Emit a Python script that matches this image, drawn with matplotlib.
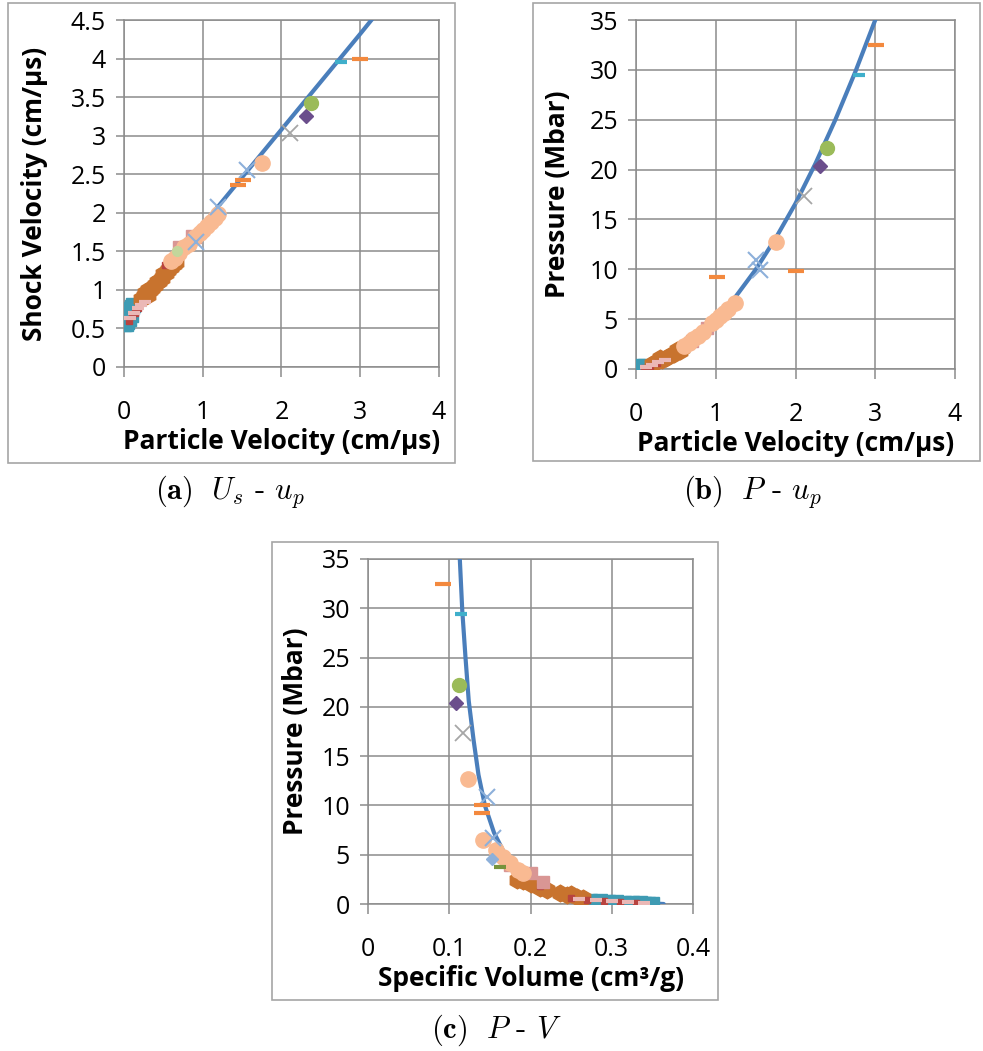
import matplotlib
matplotlib.use("Agg")
import matplotlib.pyplot as plt
from matplotlib.patches import Rectangle
from matplotlib.ticker import FixedLocator

plt.rcParams['font.family'] = ['Open Sans', 'DejaVu Sans']
plt.rcParams['mathtext.fontset'] = 'cm'

# fitted Hugoniot
fit_up = [0.0, 0.05, 0.1, 0.18, 0.25, 0.35, 0.5, 0.75, 1.0, 1.25, 1.5, 1.75, 2.0, 2.25, 2.5, 2.75, 3.0, 3.15]
fit_us = [0.6, 0.66, 0.72, 0.82, 0.91, 1.03, 1.22, 1.53, 1.84, 2.15, 2.46, 2.77, 3.08, 3.39, 3.7, 4.01, 4.32, 4.51]
fit_p = [0.0, 0.09, 0.19, 0.4, 0.61, 0.97, 1.65, 3.1, 4.97, 7.26, 9.96, 13.1, 16.6, 20.6, 25.0, 29.8, 35.0, 38.4]
fit_v = [0.364, 0.34, 0.318, 0.289, 0.268, 0.244, 0.218, 0.189, 0.169, 0.155, 0.144, 0.136, 0.13, 0.124, 0.12, 0.116, 0.113, 0.111]

# (a) Us - up data
teal_a_x = [0.0, 0.01, 0.02, 0.03, 0.04, 0.05, 0.06, 0.07, 0.08, 0.1, 0.02, 0.04, 0.06, 0.12, 0.0, 0.09]
teal_a_y = [0.56, 0.6, 0.63, 0.66, 0.69, 0.66, 0.72, 0.7, 0.75, 0.78, 0.56, 0.58, 0.62, 0.8, 0.62, 0.68]
red_a_x = [0.06, 0.1, 0.14, 0.18, 0.52]
red_a_y = [0.6, 0.66, 0.7, 0.76, 1.32]
pink_a_x = [0.08, 0.13, 0.18, 0.22, 0.27]
pink_a_y = [0.64, 0.7, 0.76, 0.8, 0.84]
brown_a_x = [0.22, 0.25, 0.27, 0.3, 0.33, 0.36, 0.4, 0.44, 0.48, 0.5, 0.53, 0.56, 0.6, 0.63, 0.66, 0.3, 0.42]
brown_a_y = [0.88, 0.92, 0.96, 0.94, 1.0, 1.03, 1.06, 1.12, 1.16, 1.2, 1.22, 1.26, 1.3, 1.33, 1.36, 1.0, 1.1]
peach_a_x = [0.6, 0.65, 0.7, 0.76, 0.82, 0.9, 0.96, 1.0, 1.05, 1.1, 1.15, 1.2, 1.75]
peach_a_y = [1.38, 1.42, 1.48, 1.55, 1.6, 1.68, 1.74, 1.78, 1.83, 1.88, 1.93, 1.98, 2.65]
rose_a_x = [0.7, 0.86, 0.9]
rose_a_y = [1.56, 1.7, 1.68]
lgreen_a_x = [0.67]
lgreen_a_y = [1.5]
lblue_a_x = [0.92, 1.2, 1.56]
lblue_a_y = [1.62, 2.08, 2.55]
gray_a_x = [2.11]
gray_a_y = [3.03]
purple_a_x = [2.31]
purple_a_y = [3.25]
green_a_x = [2.38]
green_a_y = [3.42]
orange_a_x = [1.45, 1.51, 3.0]
orange_a_y = [2.36, 2.43, 4.0]
aqua_a_x = [2.76]
aqua_a_y = [3.96]

# (b) P - up data
teal_b_x = [0.0, 0.01, 0.02, 0.03, 0.05, 0.07, 0.09, 0.11, 0.02, 0.06]
teal_b_y = [0.0, 0.05, 0.1, 0.15, 0.18, 0.2, 0.25, 0.3, 0.3, 0.1]
red_b_x = [0.1, 0.18, 0.26]
red_b_y = [0.15, 0.35, 0.6]
pink_b_x = [0.12, 0.2, 0.28, 0.36]
pink_b_y = [0.25, 0.45, 0.7, 0.95]
brown_b_x = [0.2, 0.25, 0.3, 0.33, 0.37, 0.42, 0.48, 0.51, 0.55, 0.58]
brown_b_y = [0.5, 0.7, 1.07, 0.9, 1.1, 1.3, 1.55, 1.9, 1.85, 2.1]
peach_b_x = [0.6, 0.66, 0.72, 0.78, 0.84, 0.95, 1.0, 1.05, 1.1, 1.15, 1.24, 1.76]
peach_b_y = [2.3, 2.6, 3.0, 3.3, 3.7, 4.6, 4.9, 5.3, 5.6, 6.0, 6.6, 12.7]
rose_b_x = [0.89, 0.7]
rose_b_y = [4.1, 2.8]
lblue_b_x = [1.51, 1.55]
lblue_b_y = [10.9, 9.9]
gray_b_x = [2.11]
gray_b_y = [17.3]
purple_b_x = [2.31]
purple_b_y = [20.4]
green_b_x = [2.4]
green_b_y = [22.2]
orange_b_x = [1.01, 2.01, 3.01]
orange_b_y = [9.2, 9.86, 32.5]
aqua_b_x = [2.79]
aqua_b_y = [29.5]

# (c) P - V data
teal_c_x = [0.273, 0.285, 0.295, 0.305, 0.315, 0.325, 0.335, 0.345, 0.35, 0.3, 0.32, 0.34]
teal_c_y = [0.35, 0.3, 0.25, 0.2, 0.15, 0.12, 0.08, 0.05, 0.0, 0.05, 0.0, 0.0]
red_c_x = [0.25, 0.27, 0.29, 0.31, 0.33, 0.212]
red_c_y = [0.6, 0.45, 0.35, 0.25, 0.15, 1.8]
pink_c_x = [0.26, 0.28, 0.3, 0.32, 0.34]
pink_c_y = [0.5, 0.4, 0.3, 0.2, 0.1]
brown_c_x = [0.183, 0.191, 0.2, 0.212, 0.22, 0.236, 0.245, 0.257, 0.265, 0.25]
brown_c_y = [2.4, 2.3, 2.0, 1.6, 1.4, 1.1, 0.9, 0.75, 0.6, 1.0]
peach_c_x = [0.1227, 0.142, 0.158, 0.166, 0.175, 0.185, 0.191]
peach_c_y = [12.7, 6.5, 5.5, 4.8, 4.2, 3.4, 3.1]
rose_c_x = [0.175, 0.201, 0.215]
rose_c_y = [4.0, 3.1, 2.2]
lblue_c_x = [0.146, 0.154]
lblue_c_y = [10.9, 6.7]
lblued_c_x = [0.152]
lblued_c_y = [4.6]
gdash_c_x = [0.162]
gdash_c_y = [3.8]
gray_c_x = [0.1165]
gray_c_y = [17.3]
purple_c_x = [0.108]
purple_c_y = [20.4]
green_c_x = [0.112]
green_c_y = [22.2]
orange_c_x = [0.0927, 0.14, 0.1407]
orange_c_y = [32.5, 10.0, 9.2]
aqua_c_x = [0.115]
aqua_c_y = [29.4]

styles = {
    'teal': dict(marker='s', color='#3E9BB3', ms=10),
    'red': dict(marker='s', color='#B8433F', ms=5),
    'pink': dict(marker='_', color='#EBB8B6', ms=9, mew=3),
    'brown': dict(marker='h', color='#C8732E', ms=12),
    'peach': dict(marker='o', color='#F9BA92', ms=11),
    'rose': dict(marker='s', color='#D99694', ms=9),
    'lgreen': dict(marker='o', color='#C3D69B', ms=7),
    'lblue': dict(marker='x', color='#8DB0DA', ms=11, mew=1.5),
    'lblued': dict(marker='D', color='#8DB0DA', ms=6),
    'gdash': dict(marker='_', color='#77933C', ms=8, mew=3),
    'gray': dict(marker='x', color='#A6A6A6', ms=12, mew=1.3),
    'purple': dict(marker='D', color='#6B4E8C', ms=7),
    'green': dict(marker='o', color='#9BBB59', ms=10),
    'orange': dict(marker='_', color='#F3893E', ms=11, mew=3),
    'aqua': dict(marker='_', color='#3FAFCB', ms=8, mew=3),
}

line_col = '#4A7EBB'
grid_col = '#8C8C8C'


def draw(ax, key, xs, ys):
    st = styles[key]
    ax.plot(xs, ys, linestyle='none', marker=st['marker'], color=st['color'],
            mec=st['color'], ms=st['ms'], mew=st.get('mew', 1), zorder=4)


def setup(ax, xt, xl, yt, yl, xlabel, ylabel, ylpad):
    ax.set_xlim(xt[0], xt[-1])
    ax.set_ylim(yt[0], yt[-1])
    ax.xaxis.set_major_locator(FixedLocator(xt))
    ax.yaxis.set_major_locator(FixedLocator(yt))
    ax.set_xticklabels(xl, fontsize=18)
    ax.set_yticklabels(yl, fontsize=18)
    ax.grid(True, color=grid_col, lw=1.1, zorder=0)
    ax.set_axisbelow(True)
    for s in ax.spines.values():
        s.set_color(grid_col)
        s.set_linewidth(1.1)
    ax.tick_params(axis='x', length=7, width=1.1, color=grid_col, pad=17)
    ax.tick_params(axis='y', length=6, width=1.1, color=grid_col, pad=7)
    ax.set_xlabel(xlabel, fontsize=19, fontweight='bold', labelpad=2)
    ax.set_ylabel(ylabel, fontsize=19, fontweight='bold', labelpad=ylpad)


fig = plt.figure(figsize=(9.83, 10.51), dpi=100)

# grey frames round each chart
for x0, y0, x1, y1 in [(8, 3, 455, 463), (533, 3, 980, 461), (272, 542, 718, 1000)]:
    fig.patches.append(Rectangle((x0 / 983, 1 - y1 / 1051), (x1 - x0) / 983, (y1 - y0) / 1051,
                                 transform=fig.transFigure, fill=False,
                                 edgecolor='#A5A5A5', lw=1.2))

ax1 = fig.add_axes([124 / 983, 1 - 367 / 1051, 315 / 983, 347 / 1051])
ax2 = fig.add_axes([636 / 983, 1 - 369 / 1051, 319 / 983, 349 / 1051])
ax3 = fig.add_axes([368 / 983, 1 - 904 / 1051, 325 / 983, 345 / 1051])

up_ticks = [0, 1, 2, 3, 4]
up_labels = ['0', '1', '2', '3', '4']
us_ticks = [0, 0.5, 1, 1.5, 2, 2.5, 3, 3.5, 4, 4.5]
us_labels = ['0', '0.5', '1', '1.5', '2', '2.5', '3', '3.5', '4', '4.5']
p_ticks = [0, 5, 10, 15, 20, 25, 30, 35]
p_labels = ['0', '5', '10', '15', '20', '25', '30', '35']
v_ticks = [0, 0.1, 0.2, 0.3, 0.4]
v_labels = ['0', '0.1', '0.2', '0.3', '0.4']

setup(ax1, up_ticks, up_labels, us_ticks, us_labels,
      'Particle Velocity (cm/µs)', 'Shock Velocity (cm/µs)', 16)
setup(ax2, up_ticks, up_labels, p_ticks, p_labels,
      'Particle Velocity (cm/µs)', 'Pressure (Mbar)', 13)
setup(ax3, v_ticks, v_labels, p_ticks, p_labels,
      'Specific Volume (cm³/g)', 'Pressure (Mbar)', 9)

for ax, fx, fy in [(ax1, fit_up, fit_us), (ax2, fit_up, fit_p), (ax3, fit_v, fit_p)]:
    ax.plot(fx, fy, color=line_col, lw=3, zorder=3, solid_capstyle='round')

draw(ax1, 'teal', teal_a_x, teal_a_y)
draw(ax1, 'brown', brown_a_x, brown_a_y)
draw(ax1, 'red', red_a_x, red_a_y)
draw(ax1, 'pink', pink_a_x, pink_a_y)
draw(ax1, 'rose', rose_a_x, rose_a_y)
draw(ax1, 'peach', peach_a_x, peach_a_y)
draw(ax1, 'lgreen', lgreen_a_x, lgreen_a_y)
draw(ax1, 'lblue', lblue_a_x, lblue_a_y)
draw(ax1, 'gray', gray_a_x, gray_a_y)
draw(ax1, 'purple', purple_a_x, purple_a_y)
draw(ax1, 'green', green_a_x, green_a_y)
draw(ax1, 'orange', orange_a_x, orange_a_y)
draw(ax1, 'aqua', aqua_a_x, aqua_a_y)

draw(ax2, 'teal', teal_b_x, teal_b_y)
draw(ax2, 'brown', brown_b_x, brown_b_y)
draw(ax2, 'red', red_b_x, red_b_y)
draw(ax2, 'pink', pink_b_x, pink_b_y)
draw(ax2, 'rose', rose_b_x, rose_b_y)
draw(ax2, 'peach', peach_b_x, peach_b_y)
draw(ax2, 'lblue', lblue_b_x, lblue_b_y)
draw(ax2, 'gray', gray_b_x, gray_b_y)
draw(ax2, 'purple', purple_b_x, purple_b_y)
draw(ax2, 'green', green_b_x, green_b_y)
draw(ax2, 'orange', orange_b_x, orange_b_y)
draw(ax2, 'aqua', aqua_b_x, aqua_b_y)

draw(ax3, 'teal', teal_c_x, teal_c_y)
draw(ax3, 'brown', brown_c_x, brown_c_y)
draw(ax3, 'red', red_c_x, red_c_y)
draw(ax3, 'pink', pink_c_x, pink_c_y)
draw(ax3, 'rose', rose_c_x, rose_c_y)
draw(ax3, 'peach', peach_c_x, peach_c_y)
draw(ax3, 'lblue', lblue_c_x, lblue_c_y)
draw(ax3, 'lblued', lblued_c_x, lblued_c_y)
draw(ax3, 'gdash', gdash_c_x, gdash_c_y)
draw(ax3, 'gray', gray_c_x, gray_c_y)
draw(ax3, 'purple', purple_c_x, purple_c_y)
draw(ax3, 'green', green_c_x, green_c_y)
draw(ax3, 'orange', orange_c_x, orange_c_y)
draw(ax3, 'aqua', aqua_c_x, aqua_c_y)

# captions
cap_kw = dict(ha='center', va='center', fontsize=22, family='cmr10')
fig.text(230 / 983, 1 - 492 / 1051, r'$\mathbf{(a)}\ \ U_s$ - $u_p$', **cap_kw)
fig.text(752 / 983, 1 - 492 / 1051, r'$\mathbf{(b)}\ \ P$ - $u_p$', **cap_kw)
fig.text(496 / 983, 1 - 1030 / 1051, r'$\mathbf{(c)}\ \ P$ - $V$', **cap_kw)

fig.savefig('out.png', dpi=100)
